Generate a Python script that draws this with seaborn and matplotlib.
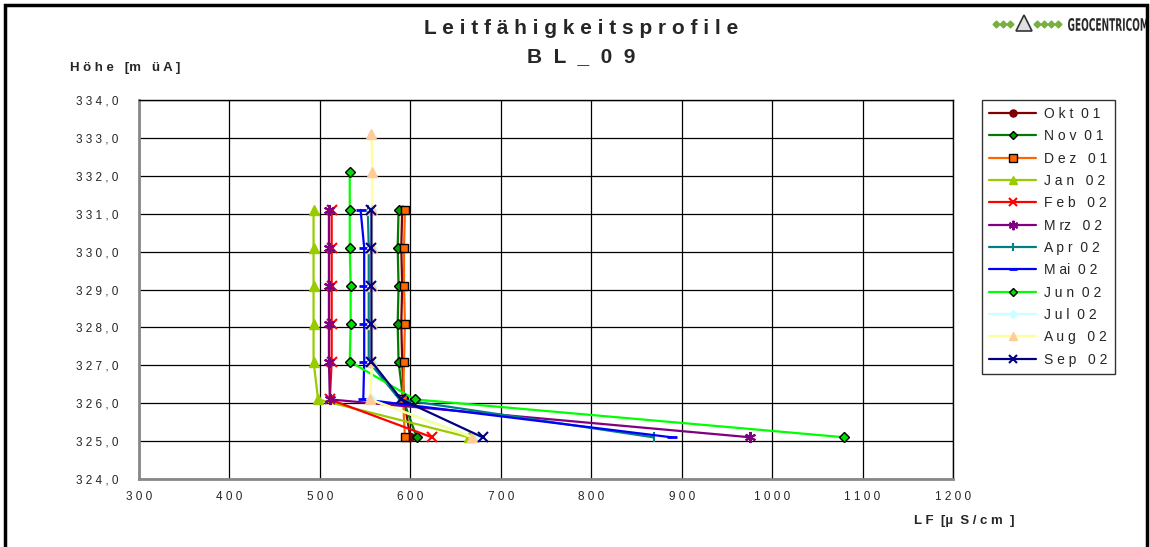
import matplotlib
matplotlib.use("Agg")
import matplotlib.pyplot as plt
import seaborn as sns
import pandas as pd
from matplotlib.patches import Rectangle, PathPatch
from matplotlib.lines import Line2D
from matplotlib.textpath import TextPath
from matplotlib.font_manager import FontProperties
from matplotlib.transforms import Affine2D

# Measurement depths (m above sea level) and conductivity readings (µS/cm)
hoehe_std = [331.1, 330.1, 329.1, 328.1, 327.1, 326.1, 325.1]
hoehe_jun = [332.1, 331.1, 330.1, 329.1, 328.1, 327.1, 326.1, 325.1]
hoehe_aug = [333.1, 332.1, 331.1, 330.1, 329.1, 328.1, 327.1, 326.1, 325.1]

okt01 = [591, 590, 591, 590, 591, 593, 600]
nov01 = [587, 586, 587, 586, 587, 592, 607]
dez01 = [594, 593, 593, 594, 593, 592, 594]
jan02 = [493, 493, 493, 493, 493, 498, 665]
feb02 = [513, 513, 513, 513, 513, 511, 624]
mrz02 = [510, 510, 510, 510, 510, 511, 976]
apr02 = [553, 554, 554, 554, 554, 588, 869]
mai02 = [545, 549, 549, 549, 549, 548, 889]
jun02 = [533, 533, 533, 534, 534, 533, 605, 1080]
jul02 = [558, 558, 558, 558, 558, 556, 670]
aug02 = [557, 558, 558, 558, 558, 558, 558, 555, 668]
sep02 = [557, 557, 557, 557, 557, 590, 680]

x_ticks = [300, 400, 500, 600, 700, 800, 900, 1000, 1100, 1200]
y_ticks = [324, 325, 326, 327, 328, 329, 330, 331, 332, 333, 334]

series = [
    ("O k t  0 1", okt01, hoehe_std, dict(color="#800000", marker="o", mfc="#800000", mec="#800000", ms=6)),
    ("N o v  0 1", nov01, hoehe_std, dict(color="#007A00", marker="D", mfc="#00A000", mec="black", ms=5)),
    ("D e z   0 1", dez01, hoehe_std, dict(color="#FF6600", marker="s", mfc="#FF6600", mec="black", ms=6)),
    ("J a n   0 2", jan02, hoehe_std, dict(color="#99CC00", marker="^", mfc="#99CC00", mec="#99CC00", ms=7)),
    ("F e b   0 2", feb02, hoehe_std, dict(color="#FF0000", marker="x", mfc="#FF0000", mec="#FF0000", ms=7, mew=1.5)),
    ("M rz   0 2", mrz02, hoehe_std, dict(color="#800080", marker=(6, 2, 0), mfc="#800080", mec="#800080", ms=8, mew=1.5)),
    ("A p r  0 2", apr02, hoehe_std, dict(color="#008080", marker="|", mfc="#008080", mec="#008080", ms=7, mew=1.5)),
    ("M ai  0 2", mai02, hoehe_std, dict(color="#0000FF", marker="_", mfc="#0000FF", mec="#0000FF", ms=7, mew=2)),
    ("J u n  0 2", jun02, hoehe_jun, dict(color="#00FF00", marker="D", mfc="#00DD00", mec="black", ms=5)),
    ("J u l  0 2", jul02, hoehe_std, dict(color="#CCFFFF", marker="D", mfc="#CCFFFF", mec="#CCFFFF", ms=5)),
    ("A u g   0 2", aug02, hoehe_aug, dict(color="#FFFF99", marker="^", mfc="#FFCC99", mec="#FFCC99", ms=7)),
    ("S e p   0 2", sep02, hoehe_std, dict(color="#000080", marker="x", mfc="#000080", mec="#000080", ms=7, mew=1.5)),
]

sns.set_theme(style="white")
plt.rcParams["font.family"] = ["Liberation Sans", "DejaVu Sans"]

W, H = 1150, 547
fig = plt.figure(figsize=(W / 100, H / 100), dpi=100)
fig.patch.set_facecolor("white")
ax = fig.add_axes([139 / W, 1 - 479 / H, (953 - 139) / W, (479 - 100) / H])

handles = []
for label, vals, heights, st in series:
    df = pd.DataFrame({"LF": vals, "H": heights})
    sns.lineplot(data=df, x="LF", y="H", sort=False, estimator=None, ax=ax,
                 color=st["color"], linewidth=1.6, marker=st["marker"],
                 markersize=st["ms"], markerfacecolor=st["mfc"],
                 markeredgecolor=st["mec"], markeredgewidth=st.get("mew", 1.0),
                 legend=False, zorder=3)
    handles.append(Line2D([0], [0], color=st["color"], lw=1.6, marker=st["marker"],
                          ms=st["ms"] * 0.85, mfc=st["mfc"], mec=st["mec"],
                          mew=st.get("mew", 1.0), label=label))

ax.set_xlim(300, 1200)
ax.set_ylim(324, 334)
ax.set_xticks(x_ticks)
ax.set_yticks(y_ticks)
ax.set_xticklabels([" ".join(str(v)) for v in x_ticks], fontsize=8.5)
ax.set_yticklabels([" ".join(f"{v:.1f}".replace(".", ",")) for v in y_ticks], fontsize=8.5)
ax.grid(True, color="black", linewidth=0.9)
ax.set_axisbelow(True)
ax.tick_params(axis="y", which="major", direction="out", length=5, width=1,
               color="#444444", pad=10)
ax.tick_params(axis="x", which="major", direction="out", length=5, width=1,
               color="#444444", pad=4)
for side in ["top", "right"]:
    ax.spines[side].set_color("black")
    ax.spines[side].set_linewidth(1.0)
for side in ["left", "bottom"]:
    ax.spines[side].set_color("#888888")
    ax.spines[side].set_linewidth(2.0)
ax.set_xlabel("")
ax.set_ylabel("")

# Titles and axis captions
fig.text(581 / W, 1 - 29 / H, "L e i t f ä h i g k e i t s p r o f i l e",
         ha="center", va="center", fontsize=15, fontweight="bold")
fig.text(581 / W, 1 - 57 / H, "B  L  _  0  9",
         ha="center", va="center", fontsize=15, fontweight="bold")
fig.text(70 / W, 1 - 68 / H, "H ö h e   [m   ü A ]",
         ha="left", va="center", fontsize=9.5, fontweight="bold")
fig.text(1015 / W, 1 - 521 / H, "L F  [µ  S / c m  ]",
         ha="right", va="center", fontsize=9.5, fontweight="bold")

# Legend box
leg = fig.legend(handles=handles, loc="upper left",
                 bbox_to_anchor=(982 / W, 1 - 100 / H), borderaxespad=0,
                 frameon=True, fontsize=10, handlelength=3.4, handletextpad=0.6,
                 labelspacing=0.6, borderpad=0.5, fancybox=False)
leg.get_frame().set_edgecolor("black")
leg.get_frame().set_linewidth(1.0)

# Company logo: condensed word mark, green signal dots and a small dish
tp = TextPath((0, 0), "GEOCENTRICOM", size=14,
              prop=FontProperties(family="DejaVu Sans", weight="bold"))
bb = tp.get_extents()
sx = 80 / bb.width
sy = 13 / bb.height
logo = PathPatch(tp, facecolor="#2a2a2a", edgecolor="none",
                 transform=Affine2D().translate(-bb.x0, -bb.y0).scale(sx, sy)
                 .translate(1068, H - 31))
fig.add_artist(logo)
for xs in ([996, 1003, 1010], [1037, 1044, 1051, 1058]):
    fig.add_artist(Line2D([x / W for x in xs], [1 - 24 / H] * len(xs),
                          transform=fig.transFigure, color="#77B040", lw=1,
                          marker="D", ms=3.5, mfc="#77B040", mec="#77B040"))
fig.add_artist(Line2D([1024 / W], [1 - 23 / H], transform=fig.transFigure,
                      marker="^", ms=11, mfc="#E0E0E0", mec="#333333", mew=1.2, lw=0))

# Outer frame of the chart area
fig.add_artist(Rectangle((5 / W, -0.05), 1142 / W, 1 - 5 / H + 0.05,
                         transform=fig.transFigure, fill=False,
                         edgecolor="black", linewidth=2.5))

fig.savefig("out.png", dpi=100)
